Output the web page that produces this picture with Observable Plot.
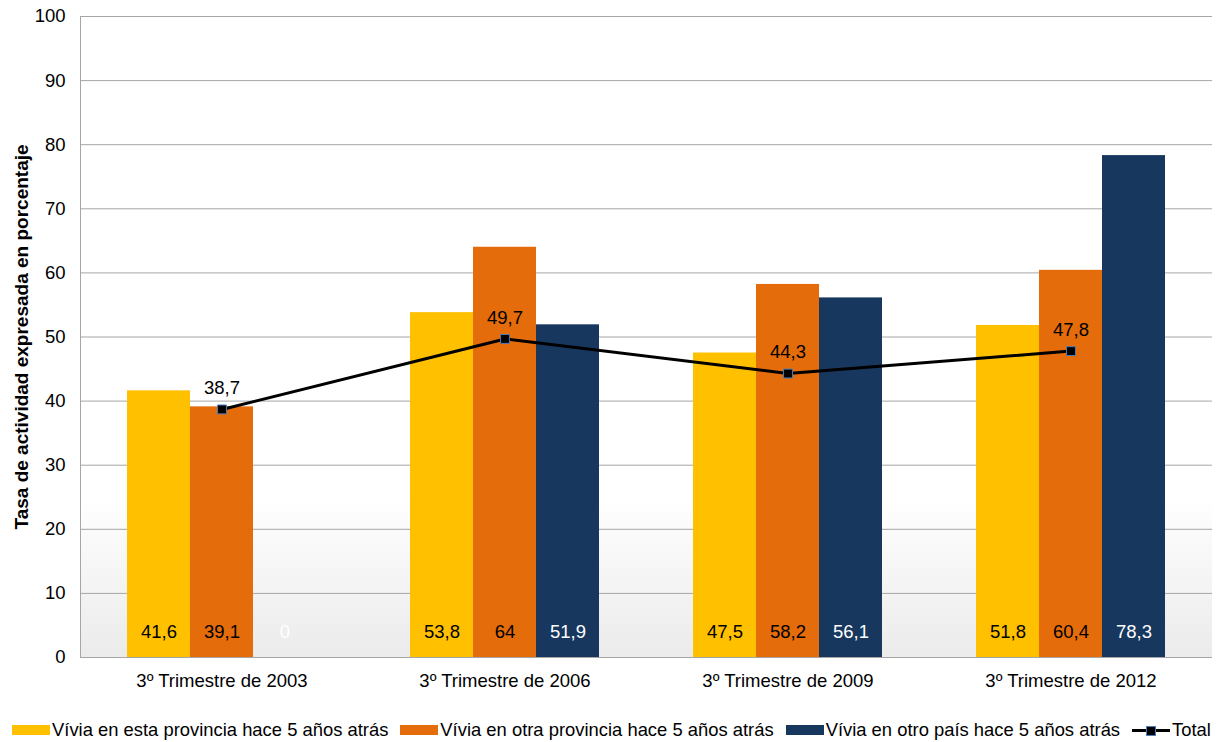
<!DOCTYPE html>
<html>
<head>
<meta charset="utf-8">
<script src="https://cdn.jsdelivr.net/npm/d3@7"></script>
<script src="https://cdn.jsdelivr.net/npm/@observablehq/plot@0.6"></script>
<style>
  html, body { margin: 0; padding: 0; background: #fff; }
  body { width: 1222px; height: 742px; overflow: hidden; font-family: "Liberation Sans", Arial, sans-serif; }
  #legend { display: flex; align-items: center; height: 42px; margin-top: 9px; padding-left: 12px; font-size: 18.4px; color: #000; white-space: nowrap; }
  .item { display: flex; align-items: center; margin-right: 12px; }
  .sw { width: 38px; height: 10px; margin-right: 2px; }
  .ln { width: 38px; height: 12px; margin-right: 2px; position: relative; }
  .ln::before { content: ""; position: absolute; left: 0; right: 0; top: 4.5px; height: 3px; background: #000; }
  .ln::after { content: ""; position: absolute; left: 14px; top: 1.5px; width: 8px; height: 8px; background: #000; border: 1px solid #4a7ebb; }
</style>
</head>
<body>
<div id="chart"></div>
<div id="legend"></div>
<script>
const categories = ["3º Trimestre de 2003", "3º Trimestre de 2006", "3º Trimestre de 2009", "3º Trimestre de 2012"];
const seriesNames = ["Vívia en esta provincia hace 5 años atrás", "Vívia en otra provincia hace 5 años atrás", "Vívia en otro país hace 5 años atrás"];
const estaProvincia = [41.6, 53.8, 47.5, 51.8];
const otraProvincia = [39.1, 64, 58.2, 60.4];
const otroPais = [0, 51.9, 56.1, 78.3];
const total = [38.7, 49.7, 44.3, 47.8];
const yTicks = [0, 10, 20, 30, 40, 50, 60, 70, 80, 90, 100];
const seriesColors = ["#FFC000", "#E46C0A", "#17375E"];
const labelColors = ["#000", "#000", "#fff"];

const seriesValues = [estaProvincia, otraProvincia, otroPais];
const fmt = v => String(v).replace(".", ",");

const W = 1222, H = 700;
const mL = 80, mR = 10, mT = 16, mB = 43;
const band = (W - mL - mR) / categories.length;
const barW = 63;
const inset = (band - barW) / 2;
const FS = 18.5;

const marks = [
  Plot.rect([0], {y1: 0, y2: 25, fill: "url(#bggrad)"}),
  Plot.ruleY(yTicks, {stroke: "#a6a6a6", strokeWidth: 1}),
  Plot.frame({anchor: "left", stroke: "#a6a6a6"})
];

seriesValues.forEach((vals, i) => {
  const data = categories.map((c, j) => ({cat: c, value: vals[j]}));
  marks.push(Plot.barY(data, {
    x: "cat", y: "value", fill: seriesColors[i],
    insetLeft: inset, insetRight: inset, dx: (i - 1) * barW
  }));
  marks.push(Plot.text(data, {
    x: "cat", text: d => fmt(d.value), frameAnchor: "bottom", dy: -20,
    dx: (i - 1) * barW, fill: labelColors[i], fontSize: FS
  }));
});

const totalData = categories.map((c, j) => ({cat: c, value: total[j]}));
marks.push(Plot.line(totalData, {x: "cat", y: "value", stroke: "#000", strokeWidth: 3}));
marks.push(Plot.dot(totalData, {x: "cat", y: "value", symbol: "square", r: 5, fill: "#000", stroke: "#4a7ebb", strokeWidth: 1}));
marks.push(Plot.text(totalData, {x: "cat", y: "value", text: d => fmt(d.value), dy: -21, fill: "#000", fontSize: FS}));

marks.push(Plot.axisY({ticks: yTicks, tickSize: 0, tickPadding: 15, fontSize: FS,
  label: "Tasa de actividad expresada en porcentaje", labelAnchor: "center", labelArrow: "none", labelOffset: 66}));
marks.push(Plot.axisX({tickSize: 0, tickPadding: 16, fontSize: FS, label: null}));

const svg = Plot.plot({
  width: W, height: H,
  marginLeft: mL, marginRight: mR, marginTop: mT, marginBottom: mB,
  style: {fontFamily: "'Liberation Sans', Arial, sans-serif", fontSize: FS + "px", color: "#000", background: "#fff"},
  x: {type: "band", domain: categories, padding: 0},
  y: {domain: [0, 100]},
  marks
});

d3.select(svg).insert("defs", ":first-child").html(
  '<linearGradient id="bggrad" x1="0" y1="0" x2="0" y2="1">' +
  '<stop offset="0" stop-color="#ffffff"/><stop offset="1" stop-color="#ebebeb"/></linearGradient>'
);
d3.select(svg).selectAll('[aria-label="y-axis label"] text').attr("font-weight", "bold").attr("font-size", 19);

document.getElementById("chart").appendChild(svg);

const legend = document.getElementById("legend");
seriesNames.forEach((name, i) => {
  const it = document.createElement("div");
  it.className = "item";
  const sw = document.createElement("span");
  sw.className = "sw";
  sw.style.background = seriesColors[i];
  const t = document.createElement("span");
  t.textContent = name;
  it.appendChild(sw); it.appendChild(t);
  legend.appendChild(it);
});
const it = document.createElement("div");
it.className = "item";
const ln = document.createElement("span");
ln.className = "ln";
const t = document.createElement("span");
t.textContent = "Total";
it.appendChild(ln); it.appendChild(t);
legend.appendChild(it);
</script>
</body>
</html>
